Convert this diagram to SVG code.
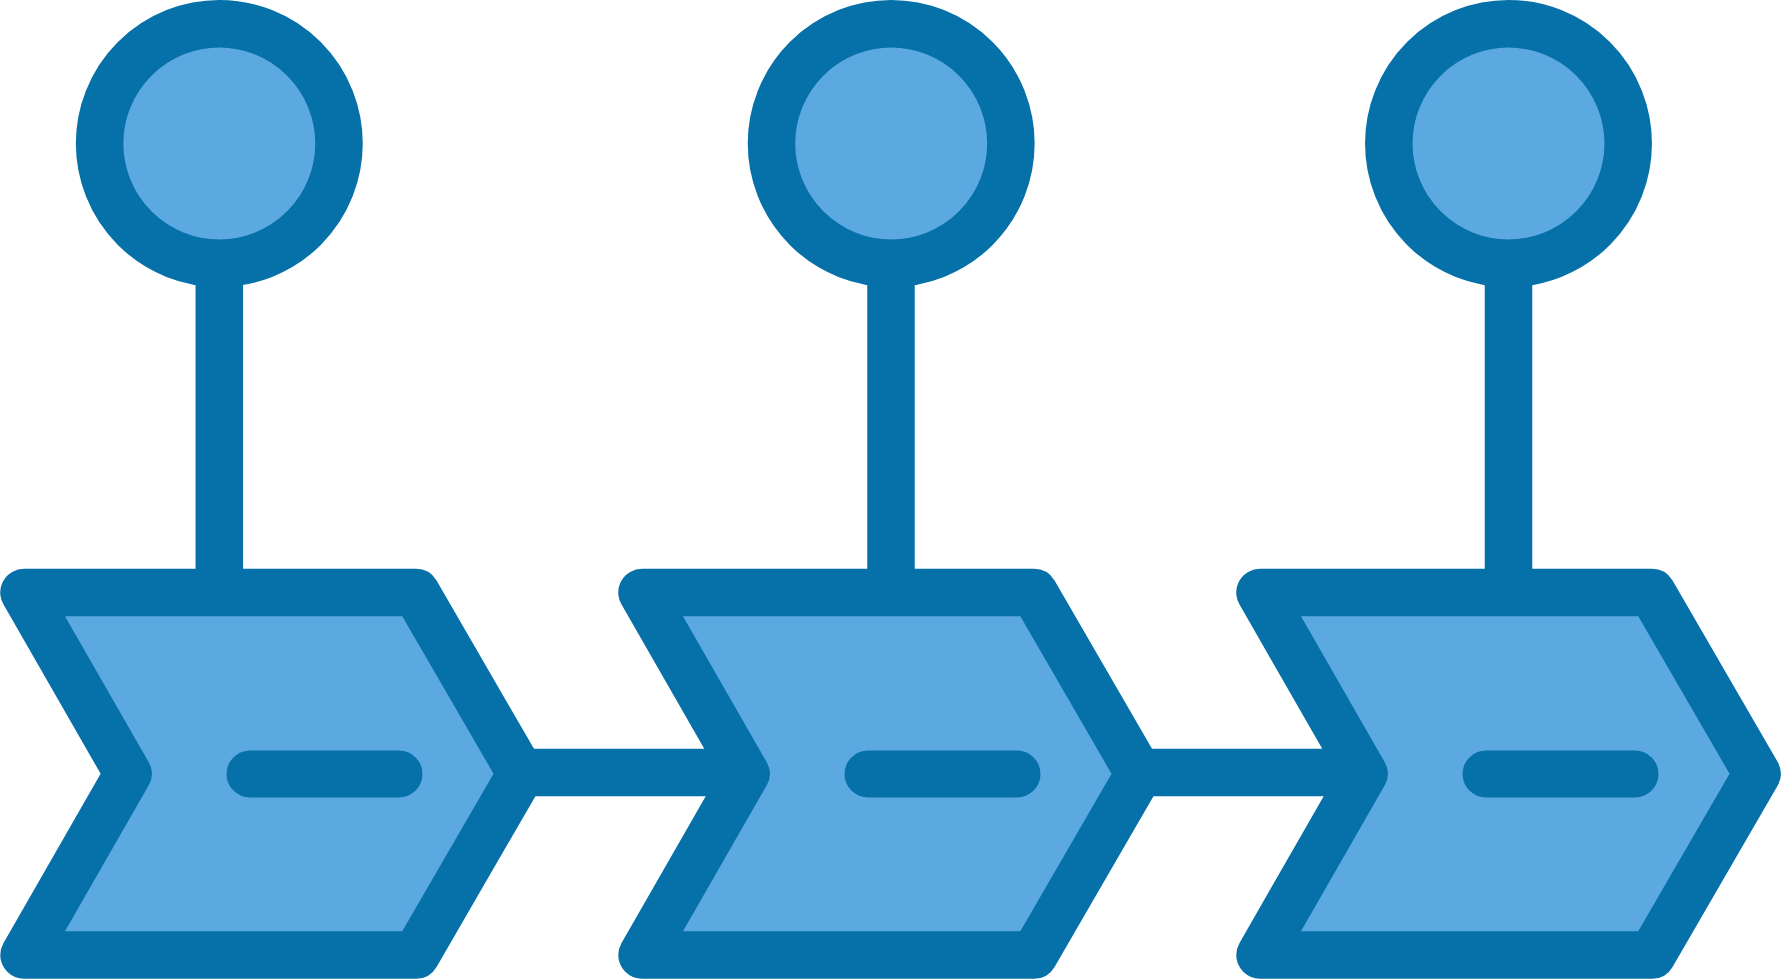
<svg xmlns="http://www.w3.org/2000/svg" width="1782" height="980" viewBox="0 0 1782 980">
  <style>
    .dark { stroke: #0670a9; stroke-width: 47.5; fill: none; }
    .shape { fill: #5ba9e0; stroke: #0670a9; stroke-width: 47.5; stroke-linejoin: round; }
    .dash { stroke: #0670a9; stroke-width: 47; stroke-linecap: round; fill: none; }
  </style>
  <defs>
    <path id="chev" d="M24,592.5 L416,592.5 L521,773.75 L416,955 L24,955 L128,773.75 Z"/>
  </defs>
  <rect width="1782" height="980" fill="#ffffff"/>
  <g id="connectors">
    <line class="dark" x1="219.3" y1="255" x2="219.3" y2="600"/>
    <line class="dark" x1="891" y1="255" x2="891" y2="600"/>
    <line class="dark" x1="1508.5" y1="255" x2="1508.5" y2="600"/>
    <line class="dark" x1="515" y1="772.5" x2="750" y2="772.5"/>
    <line class="dark" x1="1133" y1="772.5" x2="1368" y2="772.5"/>
  </g>
  <g id="node-circle-1"><circle class="shape" cx="219.3" cy="143.5" r="119.7"/></g>
  <g id="node-circle-2"><circle class="shape" cx="891.2" cy="143.5" r="119.7"/></g>
  <g id="node-circle-3"><circle class="shape" cx="1508.5" cy="143.5" r="119.7"/></g>
  <g id="node-chevron-1">
    <use href="#chev" class="shape"/>
    <line class="dash" x1="250" y1="774" x2="399" y2="774"/>
  </g>
  <g id="node-chevron-2" transform="translate(618,0)">
    <use href="#chev" class="shape"/>
    <line class="dash" x1="250" y1="774" x2="399" y2="774"/>
  </g>
  <g id="node-chevron-3" transform="translate(1236,0)">
    <use href="#chev" class="shape"/>
    <line class="dash" x1="250" y1="774" x2="399" y2="774"/>
  </g>
</svg>
